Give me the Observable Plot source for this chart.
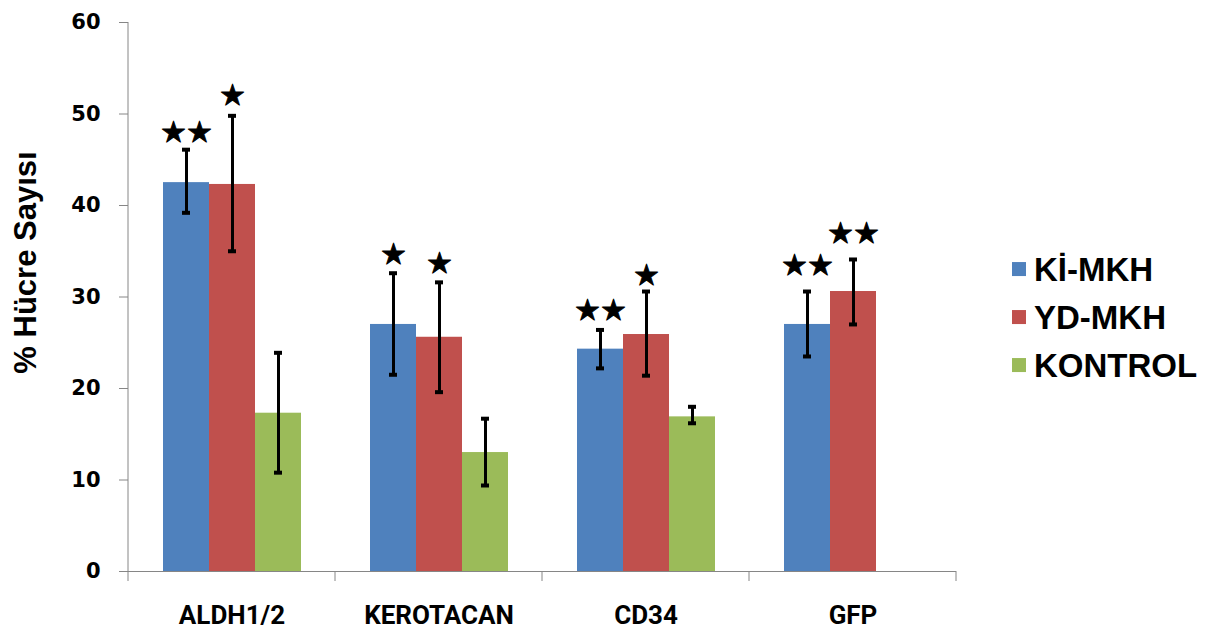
<!DOCTYPE html>
<html><head><meta charset="utf-8">
<script src="https://cdn.jsdelivr.net/npm/d3@7"></script>
<script src="https://cdn.jsdelivr.net/npm/@observablehq/plot@0.6"></script>
<style>body{margin:0;background:#fff;} #chart{position:relative;width:1207px;height:633px;}</style>
</head><body><div id="chart"></div>
<script>
const categories = ["ALDH1/2", "KEROTACAN", "CD34", "GFP"];
const series = ["Kİ-MKH", "YD-MKH", "KONTROL"];
const colors = ["#4F81BD", "#C0504D", "#9BBB59"];
const yTicks = [0, 10, 20, 30, 40, 50, 60];
const yLabel = "% Hücre Sayısı";

const kiMean = [42.5, 27.0, 24.3, 27.0];
const kiLow = [39.2, 21.5, 22.2, 23.5];
const kiHigh = [46.1, 32.6, 26.4, 30.6];
const kiStars = ["★★", "★", "★★", "★★"];
const kiStarY = [48.0, 34.6, 28.5, 33.4];

const ydMean = [42.3, 25.6, 25.9, 30.6];
const ydLow = [35.0, 19.6, 21.4, 27.0];
const ydHigh = [49.8, 31.6, 30.6, 34.1];
const ydStars = ["★", "★", "★", "★★"];
const ydStarY = [52.0, 33.6, 32.3, 36.9];

const koMean = [17.3, 13.0, 16.9, null];
const koLow = [10.8, 9.4, 16.2, null];
const koHigh = [23.9, 16.7, 18.0, null];
const koStars = [null, null, null, null];
const koStarY = [null, null, null, null];

const groups = [
  [kiMean, kiLow, kiHigh, kiStars, kiStarY],
  [ydMean, ydLow, ydHigh, ydStars, ydStarY],
  [koMean, koLow, koHigh, koStars, koStarY]
];
const rows = [];
groups.forEach(([m, lo, hi, st, sy], si) => {
  categories.forEach((c, ci) => {
    if (m[ci] == null) return;
    rows.push({cat: c, series: series[si], mean: m[ci], low: lo[ci], high: hi[ci], stars: st[ci], starY: sy[ci]});
  });
});
const starRows = rows.filter(d => d.stars);

const plot = Plot.plot({
  width: 1207, height: 633,
  marginLeft: 127, marginRight: 251, marginTop: 22, marginBottom: 62,
  style: {fontFamily: "Liberation Sans, Arial, sans-serif", background: "#fff", color: "#000"},
  fx: {domain: categories, padding: 0},
  x: {domain: series, paddingInner: 0, paddingOuter: 0.75, axis: null},
  y: {domain: [0, 60]},
  color: {domain: series, range: colors},
  marks: [
    Plot.barY(rows, {fx: "cat", x: "series", y: "mean", fill: "series"}),
    Plot.ruleX(rows, {fx: "cat", x: "series", y1: "low", y2: "high", stroke: "#000", strokeWidth: 3}),
    Plot.tickY(rows, {fx: "cat", x: "series", y: "low", stroke: "#000", strokeWidth: 4, insetLeft: 19, insetRight: 19}),
    Plot.tickY(rows, {fx: "cat", x: "series", y: "high", stroke: "#000", strokeWidth: 4, insetLeft: 19, insetRight: 19}),
    Plot.text(starRows, {fx: "cat", x: "series", y: "starY", text: "stars", fontSize: 29, fill: "#000", stroke: "#000", strokeWidth: 1, fontFamily: "DejaVu Sans", lineAnchor: "middle"}),
    Plot.ruleY([0], {stroke: "#868686", strokeWidth: 1}),
    Plot.axisY({ticks: yTicks, tickSize: 9, tickPadding: 19, stroke: "#868686", fill: "#000", fontSize: 21, fontWeight: "bold", fontFamily: "DejaVu Sans", label: null}),
    Plot.axisFx({anchor: "bottom", tickSize: 0, tickPadding: 34, fill: "#000", fontSize: 26, fontWeight: "bold", fontFamily: "Roboto, sans-serif", label: null})
  ]
});
document.getElementById("chart").appendChild(plot);

// axis line, category boundary ticks, y label and legend, placed with the plot's scales
const svg = d3.select(plot);
const fx = plot.scale("fx");
const ys = plot.scale("y");
const fxStart = (c) => fx.apply(c);
const bw = fx.bandwidth;
const y0 = ys.apply(0), yTop = ys.apply(60);
const left = fxStart(categories[0]);
const right = fxStart(categories[categories.length - 1]) + bw;
svg.append("line").attr("x1", left).attr("x2", left).attr("y1", yTop).attr("y2", y0).attr("stroke", "#868686");
const bounds = categories.map(fxStart).concat([right]);
svg.selectAll(null).data(bounds).enter().append("line")
  .attr("x1", d => d).attr("x2", d => d).attr("y1", y0).attr("y2", y0 + 10).attr("stroke", "#868686");
svg.append("text").text(yLabel)
  .attr("transform", `translate(${left - 103},${(yTop + y0) / 2 - 34}) rotate(-90)`)
  .attr("text-anchor", "middle").attr("dominant-baseline", "central")
  .attr("font-family", "Liberation Sans, Arial, sans-serif").attr("font-weight", "bold").attr("font-size", 31).attr("fill", "#000");

const lg = svg.append("g").attr("transform", `translate(${right + 56},${ys.apply(33)})`);
series.forEach((s, i) => {
  const g = lg.append("g").attr("transform", `translate(0,${i * 48})`);
  g.append("rect").attr("x", 0).attr("y", -7).attr("width", 14).attr("height", 14).attr("fill", colors[i]);
  g.append("text").text(s).attr("x", 22).attr("y", 0).attr("dominant-baseline", "central").attr("text-anchor", "start")
    .attr("font-family", "Liberation Sans, Arial, sans-serif").attr("font-weight", "bold").attr("font-size", 33).attr("fill", "#000");
});
</script>
</body></html>
